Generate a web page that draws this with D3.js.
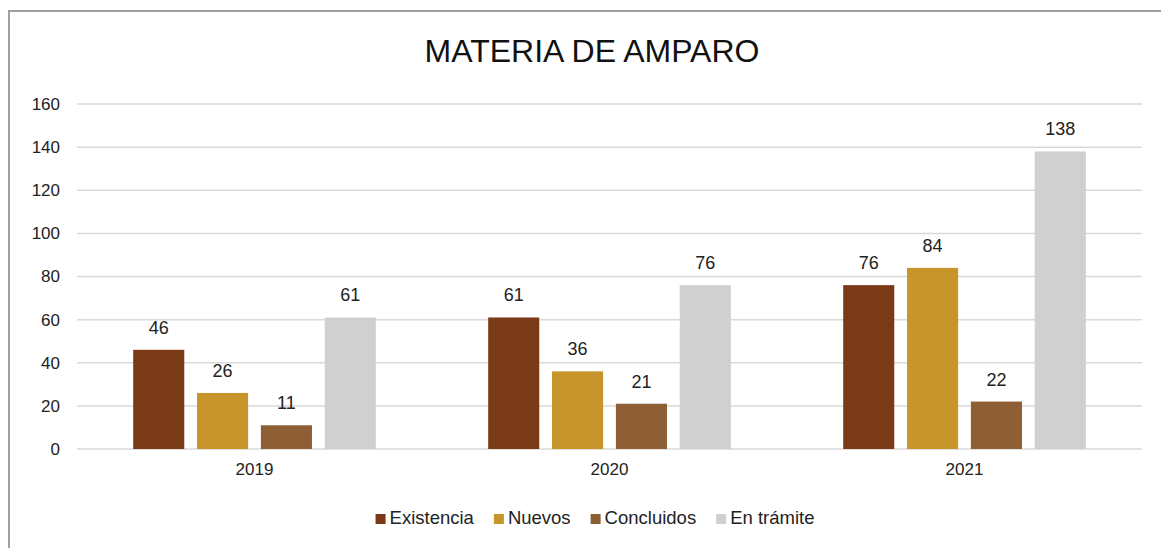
<!DOCTYPE html>
<html>
<head>
<meta charset="utf-8">
<script src="https://cdn.jsdelivr.net/npm/d3@7"></script>
<style>
  body { margin: 0; background: #fff; }
  svg { display: block; font-family: "Liberation Sans", Arial, sans-serif; }
</style>
</head>
<body>
<div id="chart"></div>
<script>
// chart data
var years = ["2019", "2020", "2021"];
var seriesNames = ["Existencia", "Nuevos", "Concluidos", "En trámite"];
var existencia = [46, 61, 76];
var nuevos = [26, 36, 84];
var concluidos = [11, 21, 22];
var enTramite = [61, 76, 138];
var yTicks = [0, 20, 40, 60, 80, 100, 120, 140, 160];

var colors = ["#7b3a17", "#c7952a", "#8e5e35", "#d0d0d0"];
var allSeries = [existencia, nuevos, concluidos, enTramite];

var chartW = 1161, chartH = 548;
var plotLeft = 77, plotRight = 1142, plotTop = 104, plotBottom = 449;

var svg = d3.select("#chart").append("svg")
  .attr("width", chartW)
  .attr("height", chartH);

// outer frame (runs off the right and bottom edges)
svg.append("rect")
  .attr("x", 9).attr("y", 11)
  .attr("width", chartW + 20).attr("height", chartH + 20)
  .attr("fill", "none")
  .attr("stroke", "#a0a0a0")
  .attr("stroke-width", 2);

// title
svg.append("text")
  .attr("x", 592).attr("y", 62)
  .attr("text-anchor", "middle")
  .attr("font-size", 32)
  .attr("fill", "#111")
  .text("MATERIA DE AMPARO");

var x0 = d3.scaleBand().domain(years).range([plotLeft, plotRight]).paddingInner(0).paddingOuter(0);
var x1 = d3.scaleBand().domain(seriesNames).range([0, x0.bandwidth()])
  .paddingInner(0.2).paddingOuter(0.88);
var y = d3.scaleLinear().domain([0, 160]).range([plotBottom, plotTop]);

// gridlines
svg.append("g").selectAll("line").data(yTicks).enter().append("line")
  .attr("x1", plotLeft).attr("x2", plotRight)
  .attr("y1", function (d) { return y(d); })
  .attr("y2", function (d) { return y(d); })
  .attr("stroke", "#d9d9d9")
  .attr("stroke-width", 1.5);

// y axis labels
var yAxis = d3.axisLeft(y).tickValues(yTicks).tickSize(0).tickPadding(0);
var gy = svg.append("g").attr("transform", "translate(60,0)").call(yAxis);
gy.select(".domain").remove();
gy.selectAll("text").attr("font-size", 17).attr("fill", "#222")
  .attr("font-family", "'Liberation Sans', Arial, sans-serif");

// x axis labels
var xAxis = d3.axisBottom(x0).tickSize(0).tickPadding(0);
var gx = svg.append("g").attr("transform", "translate(0,463)").call(xAxis);
gx.select(".domain").remove();
gx.selectAll("text").attr("font-size", 17).attr("fill", "#222")
  .attr("font-family", "'Liberation Sans', Arial, sans-serif");

// bars and value labels
var rows = [];
years.forEach(function (yr, i) {
  seriesNames.forEach(function (s, j) {
    rows.push({ year: yr, series: s, value: allSeries[j][i], color: colors[j] });
  });
});

var bars = svg.append("g");
bars.selectAll("rect").data(rows).enter().append("rect")
  .attr("x", function (d) { return x0(d.year) + x1(d.series); })
  .attr("y", function (d) { return y(d.value); })
  .attr("width", x1.bandwidth())
  .attr("height", function (d) { return y(0) - y(d.value); })
  .attr("fill", function (d) { return d.color; });

bars.selectAll("text").data(rows).enter().append("text")
  .attr("x", function (d) { return x0(d.year) + x1(d.series) + x1.bandwidth() / 2; })
  .attr("y", function (d) { return y(d.value) - 16; })
  .attr("text-anchor", "middle")
  .attr("font-size", 18)
  .attr("fill", "#222")
  .text(function (d) { return d.value; });

// legend
var legend = svg.append("g");
var lx = 0;
seriesNames.forEach(function (s, j) {
  var g = legend.append("g").attr("transform", "translate(" + lx + ",0)");
  g.append("rect").attr("x", 0).attr("y", -10).attr("width", 10).attr("height", 10)
    .attr("fill", colors[j]);
  var t = g.append("text").attr("x", 14).attr("y", 0)
    .attr("font-size", 18.5).attr("fill", "#222").text(s);
  lx += 14 + t.node().getComputedTextLength() + 20;
});
var legendWidth = lx - 20;
legend.attr("transform", "translate(" + (595 - legendWidth / 2) + ",524)");
</script>
</body>
</html>
